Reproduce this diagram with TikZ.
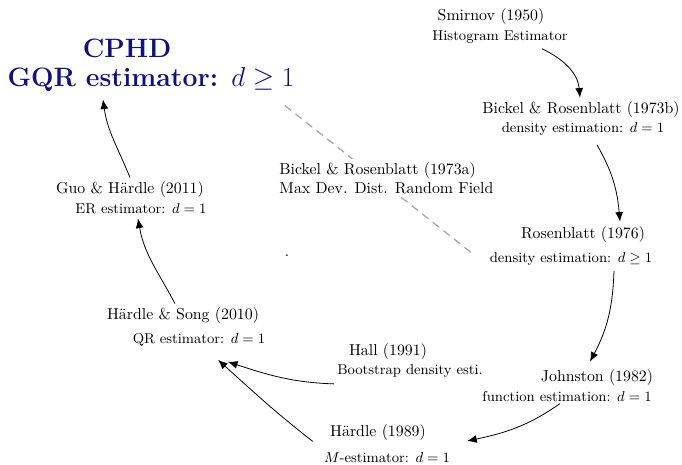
\documentclass[tikz,border=0pt]{standalone}
\usepackage{tikz}
\usetikzlibrary{calc,arrows.meta}
\definecolor{cphdblue}{RGB}{16,16,132}
\tikzset{
	paper/.style={inner sep=2pt, font=\normalsize},
	result/.style={inner sep=2pt, font=\small},
	goal/.style={inner sep=2pt, text=cphdblue, font=\fontsize{16.8}{20}\selectfont\bfseries},
	link/.style={-{Latex[length=6pt,width=5pt]}, line width=0.5pt},
	related/.style={dash pattern=on 5pt off 3.5pt, line width=0.8pt, color=black!35}
}

\begin{document}
\begin{tikzpicture}[x=0.02219cm, y=0.02219cm]
		%%%%% START %%%%%
		\useasboundingbox (0,0) rectangle (682,464);
		
		\node[goal] (cphd) at (127,416) {CPHD};
		\node[goal] (cphdT) at (151,384) {GQR estimator: $d \geq 1$};
		
		\node[paper] (smirnov) at (491,447) {Smirnov (1950)};
		\node[result] (smirnovT) at (500,427) {Histogram Estimator};
		
		\node[paper] (bickelb) at (581,354) {Bickel \& Rosenblatt (1973b)};
		\node[result] (bickelbT) at (583,335) {density estimation: $d=1$};
		
		\node[paper] (rosen) at (583,229) {Rosenblatt (1976)};
		\node[result] (rosenT) at (571,205) {density estimation: $d \geq 1$};
		
		% the 1973a paper sits on top of the dashed line
		\draw[related] ($(cphdT.south east)+(-13,-10)$) -- ($(rosenT.west)+(-12,4)$);
		\node[paper, fill=white, align=left, anchor=west] (bickela) at (276,286) {Bickel \& Rosenblatt (1973a)\\Max Dev. Dist. Random Field};
		\node[inner sep=0pt] (stray) at (287,208) {.};
		
		\node[paper] (johnston) at (597,86) {Johnston (1982)};
		\node[result] (johnstonT) at (567,67) {function estimation: $d=1$};
		
		\node[paper] (hall) at (388,112) {Hall (1991)};
		\node[result] (hallT) at (410,93) {Bootstrap density esti.};
		
		\node[paper] (hardle) at (378,31) {H\"ardle (1989)};
		\node[result] (hardleT) at (387,6) {$M$-estimator: $d=1$};
		
		\node[paper] (song) at (183,148) {H\"ardle \& Song (2010)};
		\node[result] (songT) at (199,124) {QR estimator: $d=1$};
		
		\node[paper] (guo) at (130,274) {Guo \& H\"ardle (2011)};
		\node[result] (guoT) at (141,255) {ER estimator: $d=1$};
		
		\draw[link] ($(smirnovT.south)+(42,-2)$) to[out=-25, in=95] ($(bickelb.north)+(-1,1)$);
		\draw[link] ($(bickelbT.south)+(14,-6)$) to[out=-60, in=95] ($(rosen.north)+(37,2)$);
		\draw[link] ($(rosenT.south)+(43,-2)$) to[out=-92, in=62] ($(johnston.north)+(-7,5)$);
		\draw[link] ($(johnstonT.south)+(-7,2)$) to[out=-145, in=12] ($(hardle.east)+(38,-8)$);
		\draw[link] ($(hardle.south west)+(-14,3)$) to[out=142, in=-42] ($(songT.south)+(19,-10)$);
		\draw[link] ($(hallT.south west)+(0,-3)$) to[out=178, in=-18] ($(songT.south)+(29,-12)$);
		\draw[link] ($(song.north)+(-8,1)$) to[out=118, in=-80] ($(guoT.south)+(-3,-1)$);
		\draw[link] ($(guo.north)+(0,1)$) to[out=112, in=-82] ($(cphdT.south)+(-48,-4)$);
		
		%%%%% END %%%%%
	\end{tikzpicture}
\end{document}
